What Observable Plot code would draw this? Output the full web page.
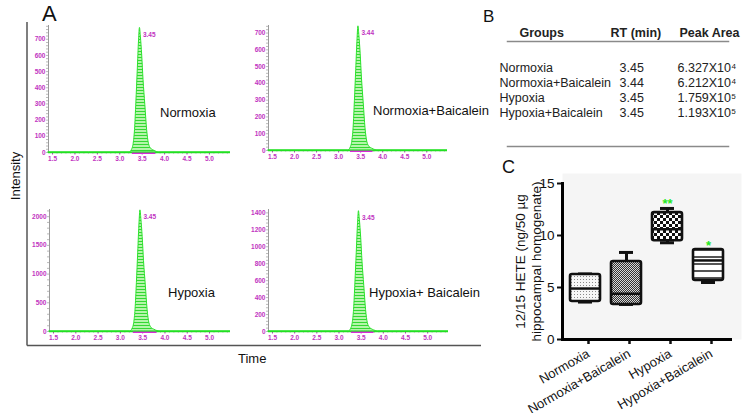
<!DOCTYPE html>
<html><head><meta charset="utf-8">
<script src="https://cdn.jsdelivr.net/npm/d3@7"></script>
<script src="https://cdn.jsdelivr.net/npm/@observablehq/plot@0.6"></script>
<style>
body{margin:0;background:#fff;}
#fig{position:relative;width:743px;height:413px;overflow:hidden;background:#fff;}
</style></head><body>
<svg width="0" height="0" style="position:absolute;left:0;top:0">
<defs>
<pattern id="hatch" patternUnits="userSpaceOnUse" width="6" height="3"><rect width="6" height="3" fill="#b4f5aa"/><rect width="6" height="1" fill="#33d833"/></pattern>
<pattern id="pat0" patternUnits="userSpaceOnUse" width="3" height="3"><rect width="3" height="3" fill="#f7f7f7"/><rect x="1" y="1" width="1" height="1" fill="#8a8a8a"/></pattern>
<pattern id="pat1" patternUnits="userSpaceOnUse" width="2" height="2"><rect width="2" height="2" fill="#d8d8d8"/><rect width="1" height="1" fill="#333"/><rect x="1" y="1" width="1" height="1" fill="#333"/></pattern>
<pattern id="pat2" patternUnits="userSpaceOnUse" width="6" height="6"><rect width="6" height="6" fill="#fff"/><rect width="3" height="3" fill="#111"/><rect x="3" y="3" width="3" height="3" fill="#111"/></pattern>
<pattern id="pat3" patternUnits="userSpaceOnUse" width="4" height="7"><rect width="4" height="7" fill="#fff"/><rect y="3" width="4" height="2" fill="#555"/></pattern>
</defs></svg>
<div id="fig"></div>
<script>
// ---------- DATA ----------
const groups = ["Normoxia", "Normoxia+Baicalein", "Hypoxia", "Hypoxia+Baicalein"];
const panelLabels = ["Normoxia", "Normoxia+Baicalein", "Hypoxia", "Hypoxia+ Baicalein"];
const rtValues = [3.45, 3.44, 3.45, 3.45];
const areaMantissa = [6.327, 6.212, 1.759, 1.193];
const areaExponent = [4, 4, 5, 5];
const tableHeaders = ["Groups", "RT (min)", "Peak Area"];

// chromatograms (time in min, intensity)
const times = [1.41, 3.22, 3.27, 3.31, 3.34, 3.37, 3.40, 3.43, 3.45, 3.47, 3.50, 3.53, 3.57, 3.61, 3.65, 3.70, 3.76, 3.83, 3.88, 5.47];
const intensityNormoxia = [0, 0, 15, 54, 139, 308, 500, 693, 770, 716, 600, 447, 293, 139, 54, 23, 12, 3, 0, 0];
const intensityNormoxiaBaicalein = [0, 0, 15, 52, 133, 296, 481, 666, 740, 688, 577, 429, 281, 133, 52, 22, 11, 3, 0, 0];
const intensityHypoxia = [0, 0, 42, 148, 380, 844, 1372, 1899, 2110, 1962, 1646, 1224, 802, 380, 148, 63, 32, 8, 0, 0];
const intensityHypoxiaBaicalein = [0, 0, 28, 99, 256, 568, 923, 1278, 1420, 1321, 1108, 824, 540, 256, 99, 43, 21, 6, 0, 0];
const integrationStart = [3.28, 3.27, 3.29, 3.28];
const integrationEnd = [3.80, 3.78, 3.82, 3.79];
const timeDomain = [1.41, 5.47];
const timeTicks = [1.5, 2.0, 2.5, 3.0, 3.5, 4.0, 4.5, 5.0];
const yDomainMax = [785, 745, 2125, 1440];
const yMinorStep = [20, 20, 100, 40];
const yTicksNormoxia = [0, 100, 200, 300, 400, 500, 600, 700];
const yTicksNormoxiaBaicalein = [0, 100, 200, 300, 400, 500, 600, 700];
const yTicksHypoxia = [0, 500, 1000, 1500, 2000];
const yTicksHypoxiaBaicalein = [0, 200, 400, 600, 800, 1000, 1200, 1400];

// panel C box plot (ng/50 µg)
const boxMin = [3.6, 3.37, 9.3, 5.48];
const boxQ1 = [3.65, 3.37, 9.5, 5.67];
const boxMedian = [4.9, 4.4, 10.6, 7.6];
const boxQ3 = [6.25, 7.5, 12.2, 8.65];
const boxMax = [6.3, 8.37, 12.6, 8.65];
const sigLabels = ["", "", "**", "*"];
const sigY = [null, null, 13.0, 9.0];
const hetTicks = [0, 5, 10, 15];

// ---------- RENDER ----------
const FONT = "'Liberation Sans', Arial, sans-serif";
const MAG = "#c133c1";
const fig = document.getElementById("fig");
function place(node, left, top) {
  node.style.position = "absolute";
  node.style.left = left + "px";
  node.style.top = top + "px";
  fig.appendChild(node);
}

const intensities = [intensityNormoxia, intensityNormoxiaBaicalein, intensityHypoxia, intensityHypoxiaBaicalein];
const yTicksAll = [yTicksNormoxia, yTicksNormoxiaBaicalein, yTicksHypoxia, yTicksHypoxiaBaicalein];
const chromBoxes = [
  {left: 20, top: 15, w: 215, h: 155, mL: 28, mT: 10, mR: 5, mB: 18},
  {left: 240, top: 15, w: 212, h: 153, mL: 28, mT: 10, mR: 5, mB: 18},
  {left: 20, top: 199, w: 215, h: 150, mL: 29, mT: 10, mR: 5, mB: 18},
  {left: 240, top: 199, w: 213, h: 150, mL: 28, mT: 10, mR: 5, mB: 18}
];
const timeMinor = d3.range(1.5, 5.45, 0.1);

intensities.forEach((vals, i) => {
  const data = times.map((t, k) => ({t, v: vals[k]}));
  const apex = data[d3.maxIndex(vals)];
  const b = chromBoxes[i];
  const svg = Plot.plot({
    width: b.w, height: b.h,
    marginLeft: b.mL, marginRight: b.mR, marginTop: b.mT, marginBottom: b.mB,
    style: {fontFamily: FONT, background: "transparent", overflow: "visible"},
    x: {domain: timeDomain, axis: null},
    y: {domain: [0, yDomainMax[i]], axis: null},
    marks: [
      Plot.axisY(d3.range(0, yDomainMax[i], yMinorStep[i]), {tickSize: 2, tickFormat: () => "", color: "#a8a8a8", strokeWidth: 0.8, label: null}),
      Plot.axisY(yTicksAll[i], {tickSize: 0, tickPadding: 3, tickFormat: d => String(d), color: MAG, fontSize: 6.5, fontWeight: "bold", label: null}),
      Plot.axisX(timeMinor, {tickSize: 1.5, tickFormat: () => "", color: "#c070c0", strokeWidth: 0.8, label: null}),
      Plot.axisX(timeTicks, {tickSize: 2.5, tickPadding: 1.5, tickFormat: d => d.toFixed(1), color: MAG, fontSize: 6.5, fontWeight: "bold", label: null}),
      Plot.ruleX([timeDomain[0]], {stroke: "#9a9a9a", strokeWidth: 1}),
      Plot.areaY(data, {x: "t", y: "v", fill: "url(#hatch)", stroke: "#2be22b", strokeWidth: 1, curve: "monotone-x"}),
      Plot.ruleY([0], {stroke: "#22e022", strokeWidth: 1.6}),
      Plot.ruleY([0], {x1: integrationStart[i], x2: integrationEnd[i], stroke: "#d82ad8", strokeWidth: 1.4, dy: 0.8}),
      Plot.text([apex], {x: "t", y: "v", text: () => rtValues[i].toFixed(2), textAnchor: "start", dx: 3, dy: 7, fill: MAG, fontSize: 6.5, fontWeight: "bold"})
    ]
  });
  place(svg, b.left, b.top);
});

// ---------- Panel B table ----------
const sup = {4: "\u2074", 5: "\u2075"};
const tableData = groups.map((g, i) => ({g, rt: rtValues[i], area: areaMantissa[i].toFixed(3) + "X10" + sup[areaExponent[i]]}));
const headerDx = [12, 103, 172];
const tableSvg = Plot.plot({
  width: 263, height: 160,
  marginLeft: 27, marginRight: 15, marginTop: 41, marginBottom: 14,
  style: {fontFamily: FONT, fontSize: "12.5px", color: "#222", background: "transparent", overflow: "visible"},
  y: {type: "point", domain: groups, range: [66, 112], padding: 0, axis: null},
  marks: [
    Plot.frame({anchor: "top", stroke: "#8a8a8a", strokeWidth: 1.5}),
    Plot.frame({anchor: "bottom", stroke: "#8a8a8a", strokeWidth: 1.5}),
    Plot.text(tableData, {y: "g", text: "g", frameAnchor: "left", textAnchor: "start", dx: -8}),
    Plot.text(tableData, {y: "g", text: d => d.rt.toFixed(2), frameAnchor: "left", textAnchor: "start", dx: 112}),
    Plot.text(tableData, {y: "g", text: "area", frameAnchor: "left", textAnchor: "start", dx: 170}),
    ...tableHeaders.map((h, i) => Plot.text([h], {frameAnchor: "top-left", textAnchor: "start", dx: headerDx[i], dy: -13, fontWeight: "bold"}))
  ]
});
place(tableSvg, 480, 0);

// ---------- Panel C box plot ----------
const boxData = groups.map((g, i) => ({g, min: boxMin[i], q1: boxQ1[i], med: boxMedian[i], q3: boxQ3[i], max: boxMax[i], sig: sigLabels[i], sy: sigY[i]}));
const boxSvg = Plot.plot({
  width: 263, height: 258,
  marginLeft: 82, marginRight: 11, marginTop: 28, marginBottom: 74,
  style: {fontFamily: FONT, fontSize: "12px", color: "#111", background: "transparent", overflow: "visible"},
  x: {domain: groups, paddingInner: 0.26, paddingOuter: 0.155, axis: null},
  y: {domain: [0, 15], axis: null},
  marks: [
    Plot.frame({fill: "#f5f5f5", stroke: null, insetTop: -10, insetRight: -9}),
    Plot.ruleX(boxData, {x: "g", y1: "q3", y2: "max", stroke: "#111", strokeWidth: 3}),
    Plot.ruleX(boxData, {x: "g", y1: "min", y2: "q1", stroke: "#111", strokeWidth: 3}),
    Plot.tickY(boxData, {x: "g", y: "max", stroke: "#111", strokeWidth: 3, inset: 8}),
    Plot.tickY(boxData, {x: "g", y: "min", stroke: "#111", strokeWidth: 3, inset: 8}),
    ...boxData.map((d, i) => Plot.barY([d], {x: "g", y1: "q1", y2: "q3", fill: `url(#pat${i})`, stroke: "#111", strokeWidth: 2.6, rx: 2})),
    Plot.tickY(boxData, {x: "g", y: "med", stroke: "#111", strokeWidth: 2.5}),
    Plot.text(boxData.filter(d => d.sig), {x: "g", y: "sy", text: "sig", fill: "#22e822", fontSize: 13, fontWeight: "bold"}),
    Plot.axisY(hetTicks, {tickSize: 5, tickPadding: 3, strokeWidth: 2, fontSize: 13.5, label: null}),
    Plot.axisX({tickSize: 5, tickPadding: 8, strokeWidth: 2.5, tickRotate: -30, fontSize: 13, dx: 3, label: null}),
    Plot.frame({anchor: "left", stroke: "#000", strokeWidth: 3}),
    Plot.ruleY([0], {stroke: "#000", strokeWidth: 3}),
    Plot.text(["12/15 HETE (ng/50 \u00b5g\nhippocampal homogenate)"], {frameAnchor: "left", textAnchor: "middle", rotate: -90, dx: -35, fontSize: 13.5, lineHeight: 1.18, fill: "#111"})
  ]
});
place(boxSvg, 480, 155);

// ---------- overlay labels and frame ----------
const ov = d3.create("svg").attr("width", 743).attr("height", 413)
  .style("font-family", FONT).style("pointer-events", "none");
ov.append("line").attr("x1", 27).attr("y1", 22).attr("x2", 27).attr("y2", 345.5).attr("stroke", "#555").attr("stroke-width", 1.5);
ov.append("line").attr("x1", 27).attr("y1", 345.5).attr("x2", 481).attr("y2", 345.5).attr("stroke", "#555").attr("stroke-width", 1.5);
const labels = [
  {t: "A", x: 42, y: 21, s: 22},
  {t: "B", x: 483, y: 22, s: 17},
  {t: "C", x: 502, y: 173, s: 18},
  {t: "Time", x: 238, y: 363, s: 13},
  {t: panelLabels[0], x: 160, y: 117, s: 13},
  {t: panelLabels[1], x: 373, y: 115, s: 13},
  {t: panelLabels[2], x: 168, y: 297, s: 13},
  {t: panelLabels[3], x: 369, y: 297, s: 13}
];
labels.forEach(l => ov.append("text").attr("x", l.x).attr("y", l.y).attr("font-size", l.s).attr("fill", "#111").text(l.t));
ov.append("text").attr("transform", "translate(20,176) rotate(-90)").attr("text-anchor", "middle").attr("font-size", 13).attr("fill", "#111").text("Intensity");
place(ov.node(), 0, 0);
</script>
</body></html>
